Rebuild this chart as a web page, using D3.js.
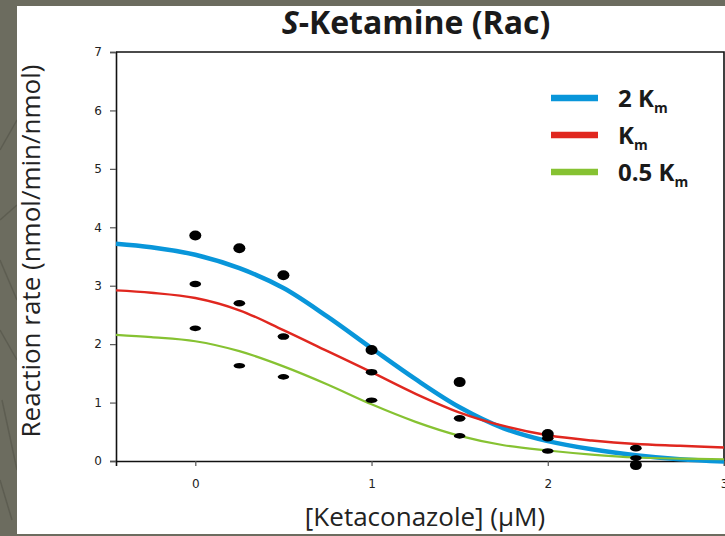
<!DOCTYPE html>
<html>
<head>
<meta charset="utf-8">
<script src="https://cdn.jsdelivr.net/npm/d3@7"></script>
<style>
  html, body { margin: 0; padding: 0; background: #6c6c5f; }
  svg { display: block; }
</style>
</head>
<body>
<div id="chart"></div>
<script>
const width = 725;
const height = 536;

// measured points
const concentrations = [0, 0.25, 0.5, 1, 1.5, 2, 2.5];
const rate2Km = [3.86, 3.64, 3.18, 1.90, 1.35, 0.46, -0.07];
const rateKm = [3.03, 2.70, 2.13, 1.52, 0.73, 0.39, 0.22];
const rateHalfKm = [2.27, 1.63, 1.44, 1.04, 0.43, 0.17, 0.05];

// fitted curves
const fitX = [-0.45, -0.25, 0, 0.25, 0.5, 0.75, 1, 1.25, 1.5, 1.75, 2, 2.25, 2.5, 2.75, 3];
const fit2Km = [3.72, 3.66, 3.53, 3.30, 2.96, 2.47, 1.93, 1.40, 0.92, 0.56, 0.34, 0.20, 0.10, 0.03, -0.01];
const fitKm = [2.92, 2.88, 2.79, 2.58, 2.24, 1.88, 1.52, 1.15, 0.83, 0.60, 0.44, 0.35, 0.29, 0.26, 0.23];
const fitHalfKm = [2.16, 2.12, 2.05, 1.88, 1.62, 1.31, 0.97, 0.67, 0.43, 0.27, 0.18, 0.11, 0.06, 0.04, 0.03];

const xTicks = [0, 1, 2, 3];
const yTicks = [0, 1, 2, 3, 4, 5, 6, 7];

const series = [
  {label: "2 K", sub: "m", color: "#0996da", width: 4.5, dots: rate2Km, fit: fit2Km, rx: 6, ry: 5},
  {label: "K", sub: "m", color: "#e0271f", width: 2.4, dots: rateKm, fit: fitKm, rx: 5.8, ry: 3.3},
  {label: "0.5 K", sub: "m", color: "#86c232", width: 2.2, dots: rateHalfKm, fit: fitHalfKm, rx: 5.8, ry: 2.8}
];

const margin = {top: 52, right: 1, bottom: 75, left: 116};

const svg = d3.select("#chart")
  .append("svg")
  .attr("width", width)
  .attr("height", height);

// gray frame + white panel
svg.append("rect")
  .attr("width", width)
  .attr("height", height)
  .attr("fill", "#6c6c5f");

const strip = svg.append("g")
  .attr("stroke", "#5d5d51")
  .attr("stroke-width", 1.5)
  .attr("fill", "none");
[[0, 150, 17, 120], [0, 260, 17, 300], [0, 330, 17, 360], [2, 400, 17, 470], [0, 480, 12, 520], [0, 220, 17, 205]]
  .forEach(s => strip.append("line").attr("x1", s[0]).attr("y1", s[1]).attr("x2", s[2]).attr("y2", s[3]));

svg.append("rect")
  .attr("x", 17)
  .attr("y", 6)
  .attr("width", width - 17)
  .attr("height", 528)
  .attr("fill", "#fff");

const x = d3.scaleLinear()
  .domain([-0.45, 3])
  .range([margin.left, width - margin.right]);

const y = d3.scaleLinear()
  .domain([0, 7])
  .range([height - margin.bottom, margin.top]);

// axes
const xAxis = svg.append("g")
  .attr("transform", `translate(0,${y(0)})`)
  .call(d3.axisBottom(x).tickValues(xTicks).tickFormat(d3.format("d")).tickSize(5).tickPadding(13));

const yAxis = svg.append("g")
  .attr("transform", `translate(${margin.left},0)`)
  .call(d3.axisLeft(y).tickValues(yTicks).tickFormat(d3.format("d")).tickSize(6).tickPadding(8));

[xAxis, yAxis].forEach(a => {
  a.select(".domain").attr("stroke", "#111").attr("stroke-width", 1.6);
  a.selectAll(".tick line").attr("stroke", "#555").attr("stroke-width", 1.2);
  a.selectAll(".tick text")
    .attr("fill", "#222")
    .attr("font-family", "DejaVu Sans, sans-serif")
    .attr("font-size", "12px");
});

// top and right frame
svg.append("path")
  .attr("d", `M${x(-0.45)},${y(7)}H${x(3)}V${y(0)}`)
  .attr("fill", "none")
  .attr("stroke", "#111")
  .attr("stroke-width", 1.6);

// curves
const line = d3.line()
  .x((d, i) => x(fitX[i]))
  .y(d => y(d))
  .curve(d3.curveCatmullRom.alpha(0.5));

series.forEach(s => {
  svg.append("path")
    .datum(s.fit)
    .attr("fill", "none")
    .attr("stroke", s.color)
    .attr("stroke-width", s.width)
    .attr("d", line);
});

// dots
series.forEach(s => {
  svg.append("g")
    .selectAll("ellipse")
    .data(s.dots)
    .join("ellipse")
    .attr("cx", (d, i) => x(concentrations[i]))
    .attr("cy", d => y(d))
    .attr("rx", s.rx)
    .attr("ry", s.ry)
    .attr("fill", "#000");
});

// title
const title = svg.append("text")
  .attr("x", 416)
  .attr("y", 34)
  .attr("text-anchor", "middle")
  .attr("font-family", "Open Sans, sans-serif")
  .attr("font-weight", "bold")
  .attr("font-size", "32px")
  .attr("fill", "#1a1a1a");
title.append("tspan").attr("font-style", "italic").text("S");
title.append("tspan").text("-Ketamine (Rac)");

// axis labels
svg.append("text")
  .attr("x", 425)
  .attr("y", 526)
  .attr("text-anchor", "middle")
  .attr("font-family", "Open Sans, sans-serif")
  .attr("font-size", "26px")
  .attr("fill", "#222")
  .text("[Ketaconazole] (\u00b5M)");

svg.append("text")
  .attr("transform", "translate(40,251) rotate(-90)")
  .attr("text-anchor", "middle")
  .attr("font-family", "Open Sans, sans-serif")
  .attr("font-size", "26px")
  .attr("fill", "#222")
  .text("Reaction rate (nmol/min/nmol)");

// legend
const legend = svg.append("g").attr("transform", "translate(551,98)");
series.forEach((s, i) => {
  const g = legend.append("g").attr("transform", `translate(0,${i * 37})`);
  g.append("line")
    .attr("x1", 0).attr("x2", 47)
    .attr("stroke", s.color)
    .attr("stroke-width", 6.5);
  const t = g.append("text")
    .attr("x", 67)
    .attr("y", 8.5)
    .attr("font-family", "Open Sans, sans-serif")
    .attr("font-weight", "bold")
    .attr("font-size", "24px")
    .attr("fill", "#1a1a1a");
  t.append("tspan").text(s.label);
  t.append("tspan").attr("font-size", "14px").attr("dy", 6).text(s.sub);
});
</script>
</body>
</html>
